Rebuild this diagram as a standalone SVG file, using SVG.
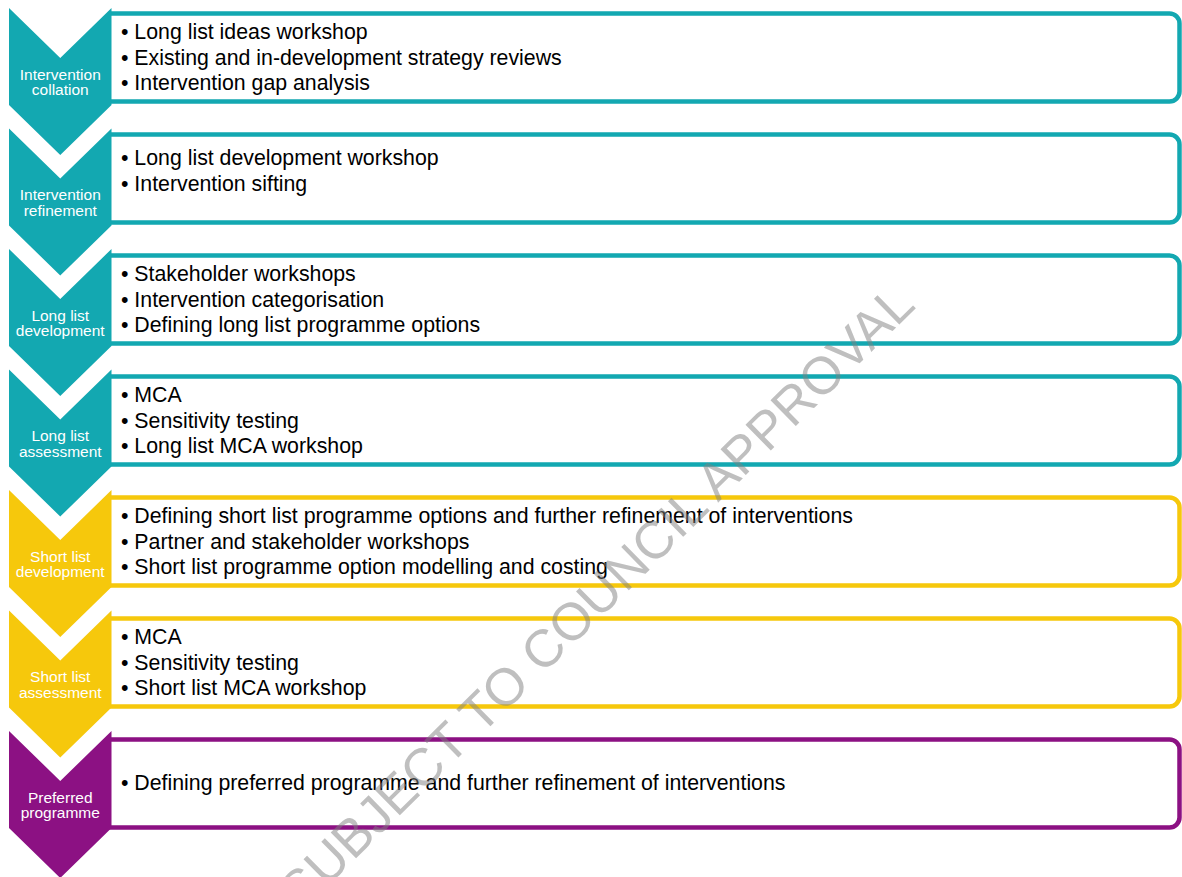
<svg xmlns="http://www.w3.org/2000/svg" width="1182" height="877" viewBox="0 0 1182 877">
<style>
.bg{fill:#ffffff}
.box{fill:#ffffff;stroke-width:4.5}
.teal{fill:#13A8B1}
.yellow{fill:#F6C80C}
.purple{fill:#8C1183}
.bt{stroke:#13A8B1}
.by{stroke:#F6C80C}
.bp{stroke:#8C1183}
.lbl{font-family:"Liberation Sans",Arial,sans-serif;font-size:15.5px;fill:#ffffff;text-anchor:middle}
.body{font-family:"Liberation Sans",Arial,sans-serif;font-size:21.3px;fill:#000000}
.wm{font-family:"Liberation Sans",Arial,sans-serif;font-size:52.5px;fill:#808080;fill-opacity:0.5;text-anchor:end}
</style>
<rect class="bg" x="0" y="0" width="1182" height="877"/>
<g id="connectors"/>

<g id="step1">
<path class="box bt" d="M109,13.5 H1169.5 a10,10 0 0 1 10,10 V91.5 a10,10 0 0 1 -10,10 H109"/>
<polygon class="teal" points="9,8 60.25,58 111.5,8 111.5,105 60.25,155 9,105"/>
<text class="lbl" x="60.25" y="79.5">Intervention</text>
<text class="lbl" x="60.25" y="95">collation</text>
<text class="body" x="121" y="39">• Long list ideas workshop</text>
<text class="body" x="121" y="64.5">• Existing and in-development strategy reviews</text>
<text class="body" x="121" y="90">• Intervention gap analysis</text>
</g>

<g id="step2">
<path class="box bt" d="M109,134.5 H1169.5 a10,10 0 0 1 10,10 V212.5 a10,10 0 0 1 -10,10 H109"/>
<polygon class="teal" points="9,128.5 60.25,178.5 111.5,128.5 111.5,225.5 60.25,275.5 9,225.5"/>
<text class="lbl" x="60.25" y="200">Intervention</text>
<text class="lbl" x="60.25" y="215.5">refinement</text>
<text class="body" x="121" y="165">• Long list development workshop</text>
<text class="body" x="121" y="191">• Intervention sifting</text>
</g>

<g id="step3">
<path class="box bt" d="M109,255.5 H1169.5 a10,10 0 0 1 10,10 V333.5 a10,10 0 0 1 -10,10 H109"/>
<polygon class="teal" points="9,249 60.25,299 111.5,249 111.5,346 60.25,396 9,346"/>
<text class="lbl" x="60.25" y="320.5">Long list</text>
<text class="lbl" x="60.25" y="336">development</text>
<text class="body" x="121" y="281">• Stakeholder workshops</text>
<text class="body" x="121" y="306.5">• Intervention categorisation</text>
<text class="body" x="121" y="332">• Defining long list programme options</text>
</g>

<g id="step4">
<path class="box bt" d="M109,376.5 H1169.5 a10,10 0 0 1 10,10 V454.5 a10,10 0 0 1 -10,10 H109"/>
<polygon class="teal" points="9,369.5 60.25,419.5 111.5,369.5 111.5,466.5 60.25,516.5 9,466.5"/>
<text class="lbl" x="60.25" y="441">Long list</text>
<text class="lbl" x="60.25" y="456.5">assessment</text>
<text class="body" x="121" y="402">• MCA</text>
<text class="body" x="121" y="427.5">• Sensitivity testing</text>
<text class="body" x="121" y="453">• Long list MCA workshop</text>
</g>

<g id="step5">
<path class="box by" d="M109,497.5 H1169.5 a10,10 0 0 1 10,10 V575.5 a10,10 0 0 1 -10,10 H109"/>
<polygon class="yellow" points="9,490 60.25,540 111.5,490 111.5,587 60.25,637 9,587"/>
<text class="lbl" x="60.25" y="561.5">Short list</text>
<text class="lbl" x="60.25" y="577">development</text>
<text class="body" x="121" y="523">• Defining short list programme options and further refinement of interventions</text>
<text class="body" x="121" y="548.5">• Partner and stakeholder workshops</text>
<text class="body" x="121" y="574">• Short list programme option modelling and costing</text>
</g>

<g id="step6">
<path class="box by" d="M109,618.5 H1169.5 a10,10 0 0 1 10,10 V696.5 a10,10 0 0 1 -10,10 H109"/>
<polygon class="yellow" points="9,610.5 60.25,660.5 111.5,610.5 111.5,707.5 60.25,757.5 9,707.5"/>
<text class="lbl" x="60.25" y="682">Short list</text>
<text class="lbl" x="60.25" y="697.5">assessment</text>
<text class="body" x="121" y="644">• MCA</text>
<text class="body" x="121" y="669.5">• Sensitivity testing</text>
<text class="body" x="121" y="695">• Short list MCA workshop</text>
</g>

<g id="step7">
<path class="box bp" d="M109,739.5 H1169.5 a10,10 0 0 1 10,10 V817.5 a10,10 0 0 1 -10,10 H109"/>
<polygon class="purple" points="9,731 60.25,781 111.5,731 111.5,828 60.25,878 9,828"/>
<text class="lbl" x="60.25" y="802.5">Preferred</text>
<text class="lbl" x="60.25" y="818">programme</text>
<text class="body" x="121" y="790">• Defining preferred programme and further refinement of interventions</text>
</g>

<g id="watermark">
<text class="wm" x="917" y="307" transform="rotate(-44.5 917 307)">SUBJECT TO COUNCIL APPROVAL</text>
</g>
</svg>
